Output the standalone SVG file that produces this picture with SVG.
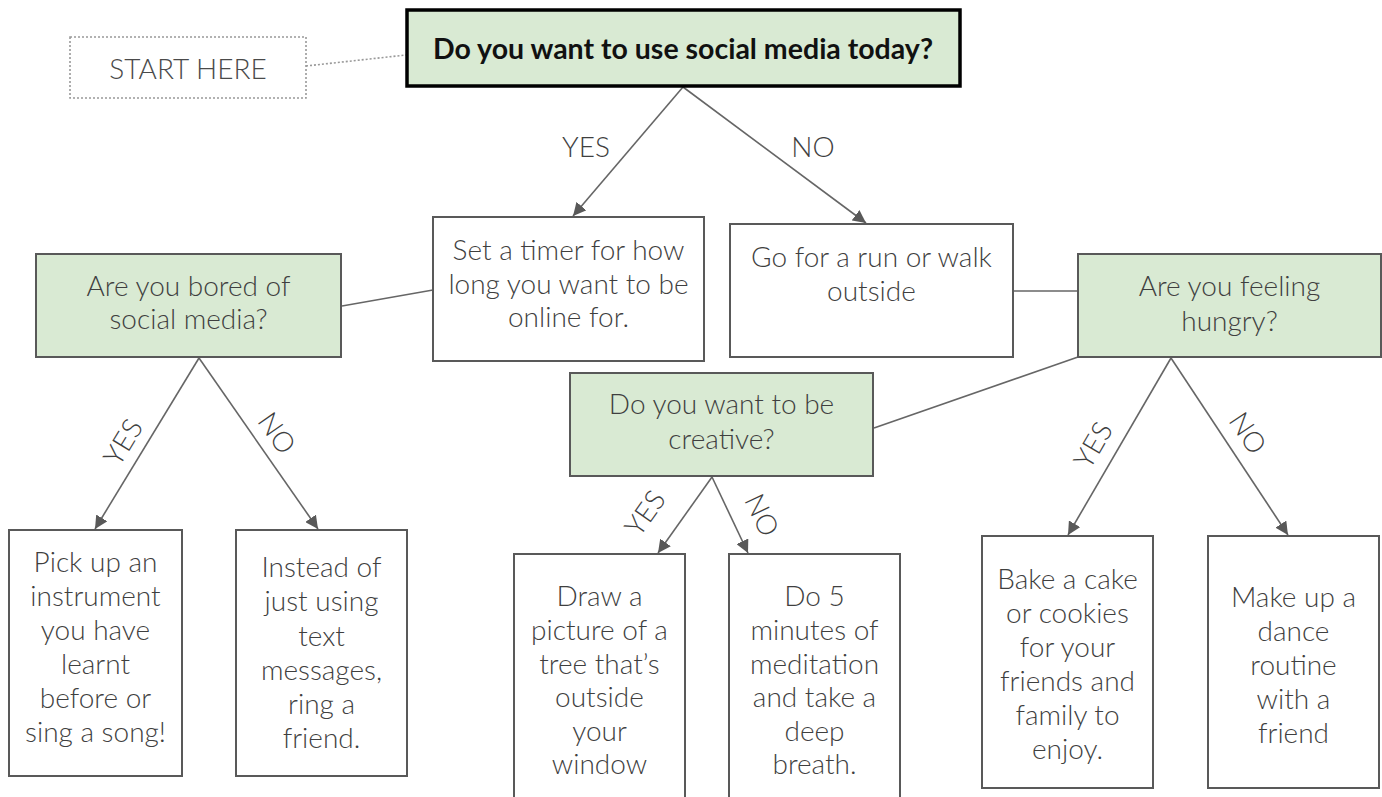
<svg xmlns="http://www.w3.org/2000/svg" width="1382" height="797" viewBox="0 0 1382 797">
<style>
.box{fill:#ffffff;stroke:#595959;stroke-width:2}
.q{fill:#d9ead3;stroke:#595959;stroke-width:2}
.t{font-family:Lato,"Open Sans",sans-serif;font-weight:300;font-size:28px;fill:#3f3f3f;text-anchor:middle}
.lbl{font-family:Lato,"Open Sans",sans-serif;font-weight:300;font-size:28px;fill:#3f3f3f;text-anchor:middle}
.c{stroke:#666666;stroke-width:1.6;fill:none}
</style>
<defs>
<marker id="ah" viewBox="0 0 10 10" refX="10" refY="5" markerWidth="13" markerHeight="13" markerUnits="userSpaceOnUse" orient="auto">
<path d="M0,0 L10,5 L0,10 z" fill="#595959"/>
</marker>
</defs>
<rect width="1382" height="797" fill="#ffffff"/>
<g id="connectors">
<line x1="306" y1="66" x2="406" y2="55" stroke="#999999" stroke-width="1.6" stroke-dasharray="2,2"/>
<line class="c" x1="683" y1="87" x2="573" y2="216" marker-end="url(#ah)"/>
<line class="c" x1="683" y1="87" x2="866" y2="223" marker-end="url(#ah)"/>
<line class="c" x1="342" y1="306" x2="433" y2="290"/>
<line class="c" x1="1013" y1="291" x2="1078" y2="291"/>
<line class="c" x1="874" y1="428" x2="1078" y2="357"/>
<line class="c" x1="199" y1="358" x2="95" y2="529" marker-end="url(#ah)"/>
<line class="c" x1="199" y1="358" x2="318" y2="529" marker-end="url(#ah)"/>
<line class="c" x1="712" y1="477" x2="658" y2="553" marker-end="url(#ah)"/>
<line class="c" x1="712" y1="477" x2="748" y2="553" marker-end="url(#ah)"/>
<line class="c" x1="1171" y1="358" x2="1068" y2="535" marker-end="url(#ah)"/>
<line class="c" x1="1171" y1="358" x2="1288" y2="535" marker-end="url(#ah)"/>
<text class="lbl" x="586" y="157">YES</text>
<text class="lbl" x="813" y="157">NO</text>
<text class="lbl" transform="translate(123,442) rotate(-58.7)" y="10">YES</text>
<text class="lbl" transform="translate(277,433) rotate(55.3)" y="10">NO</text>
<text class="lbl" transform="translate(645,513) rotate(-54.6)" y="10">YES</text>
<text class="lbl" transform="translate(762,515) rotate(64.6)" y="10">NO</text>
<text class="lbl" transform="translate(1093,445) rotate(-59.8)" y="10">YES</text>
<text class="lbl" transform="translate(1248,433) rotate(56.6)" y="10">NO</text>
</g>
<g id="start">
<rect x="70" y="37" width="236" height="61" fill="#ffffff" stroke="#999999" stroke-width="1.6" stroke-dasharray="2,2"/>
<text class="t" x="188" y="79" style="fill:#4a4a4a">START HERE</text>
</g>
<g id="q-social">
<rect x="407" y="10" width="553" height="76" fill="#d9ead3" stroke="#000000" stroke-width="3.5"/>
<text x="683" y="59" style="font-family:Lato,'Open Sans',sans-serif;font-weight:700;font-size:28.5px;fill:#111111;text-anchor:middle">Do you want to use social media today?</text>
</g>
<g id="timer">
<rect class="box" x="433" y="217" width="271" height="144"/>
<text class="t" x="568.5" y="260">Set a timer for how</text>
<text class="t" x="568.5" y="294">long you want to be</text>
<text class="t" x="568.5" y="327">online for.</text>
</g>
<g id="run">
<rect class="box" x="730" y="224" width="283" height="133"/>
<text class="t" x="871.5" y="267">Go for a run or walk</text>
<text class="t" x="871.5" y="301">outside</text>
</g>
<g id="q-bored">
<rect class="q" x="36" y="254" width="305" height="103"/>
<text class="t" x="188.5" y="296">Are you bored of</text>
<text class="t" x="188.5" y="329">social media?</text>
</g>
<g id="q-hungry">
<rect class="q" x="1078" y="254" width="303" height="103"/>
<text class="t" x="1229.5" y="296">Are you feeling</text>
<text class="t" x="1229.5" y="331">hungry?</text>
</g>
<g id="q-creative">
<rect class="q" x="570" y="373" width="303" height="103"/>
<text class="t" x="721.5" y="414">Do you want to be</text>
<text class="t" x="721.5" y="449">creative?</text>
</g>
<g id="instrument">
<rect class="box" x="9" y="530" width="173" height="246"/>
<text class="t" x="95.5" y="572">Pick up an</text>
<text class="t" x="95.5" y="606">instrument</text>
<text class="t" x="95.5" y="640">you have</text>
<text class="t" x="95.5" y="674">learnt</text>
<text class="t" x="95.5" y="708">before or</text>
<text class="t" x="95.5" y="742">sing a song!</text>
</g>
<g id="ring">
<rect class="box" x="236" y="530" width="171" height="246"/>
<text class="t" x="321.5" y="577">Instead of</text>
<text class="t" x="321.5" y="611">just using</text>
<text class="t" x="321.5" y="646">text</text>
<text class="t" x="321.5" y="680">messages,</text>
<text class="t" x="321.5" y="714">ring a</text>
<text class="t" x="321.5" y="748">friend.</text>
</g>
<g id="draw">
<rect class="box" x="514" y="554" width="171" height="260"/>
<text class="t" x="599.5" y="606">Draw a</text>
<text class="t" x="599.5" y="640">picture of a</text>
<text class="t" x="599.5" y="674">tree that’s</text>
<text class="t" x="599.5" y="707">outside</text>
<text class="t" x="599.5" y="741">your</text>
<text class="t" x="599.5" y="774">window</text>
</g>
<g id="meditate">
<rect class="box" x="729" y="554" width="171" height="260"/>
<text class="t" x="814.5" y="606">Do 5</text>
<text class="t" x="814.5" y="640">minutes of</text>
<text class="t" x="814.5" y="674">meditation</text>
<text class="t" x="814.5" y="707">and take a</text>
<text class="t" x="814.5" y="741">deep</text>
<text class="t" x="814.5" y="774">breath.</text>
</g>
<g id="bake">
<rect class="box" x="982" y="536" width="171" height="252"/>
<text class="t" x="1067.5" y="589">Bake a cake</text>
<text class="t" x="1067.5" y="623">or cookies</text>
<text class="t" x="1067.5" y="657">for your</text>
<text class="t" x="1067.5" y="691">friends and</text>
<text class="t" x="1067.5" y="725">family to</text>
<text class="t" x="1067.5" y="759">enjoy.</text>
</g>
<g id="dance">
<rect class="box" x="1208" y="536" width="171" height="252"/>
<text class="t" x="1293.5" y="607">Make up a</text>
<text class="t" x="1293.5" y="641">dance</text>
<text class="t" x="1293.5" y="675">routine</text>
<text class="t" x="1293.5" y="709">with a</text>
<text class="t" x="1293.5" y="743">friend</text>
</g>
</svg>
